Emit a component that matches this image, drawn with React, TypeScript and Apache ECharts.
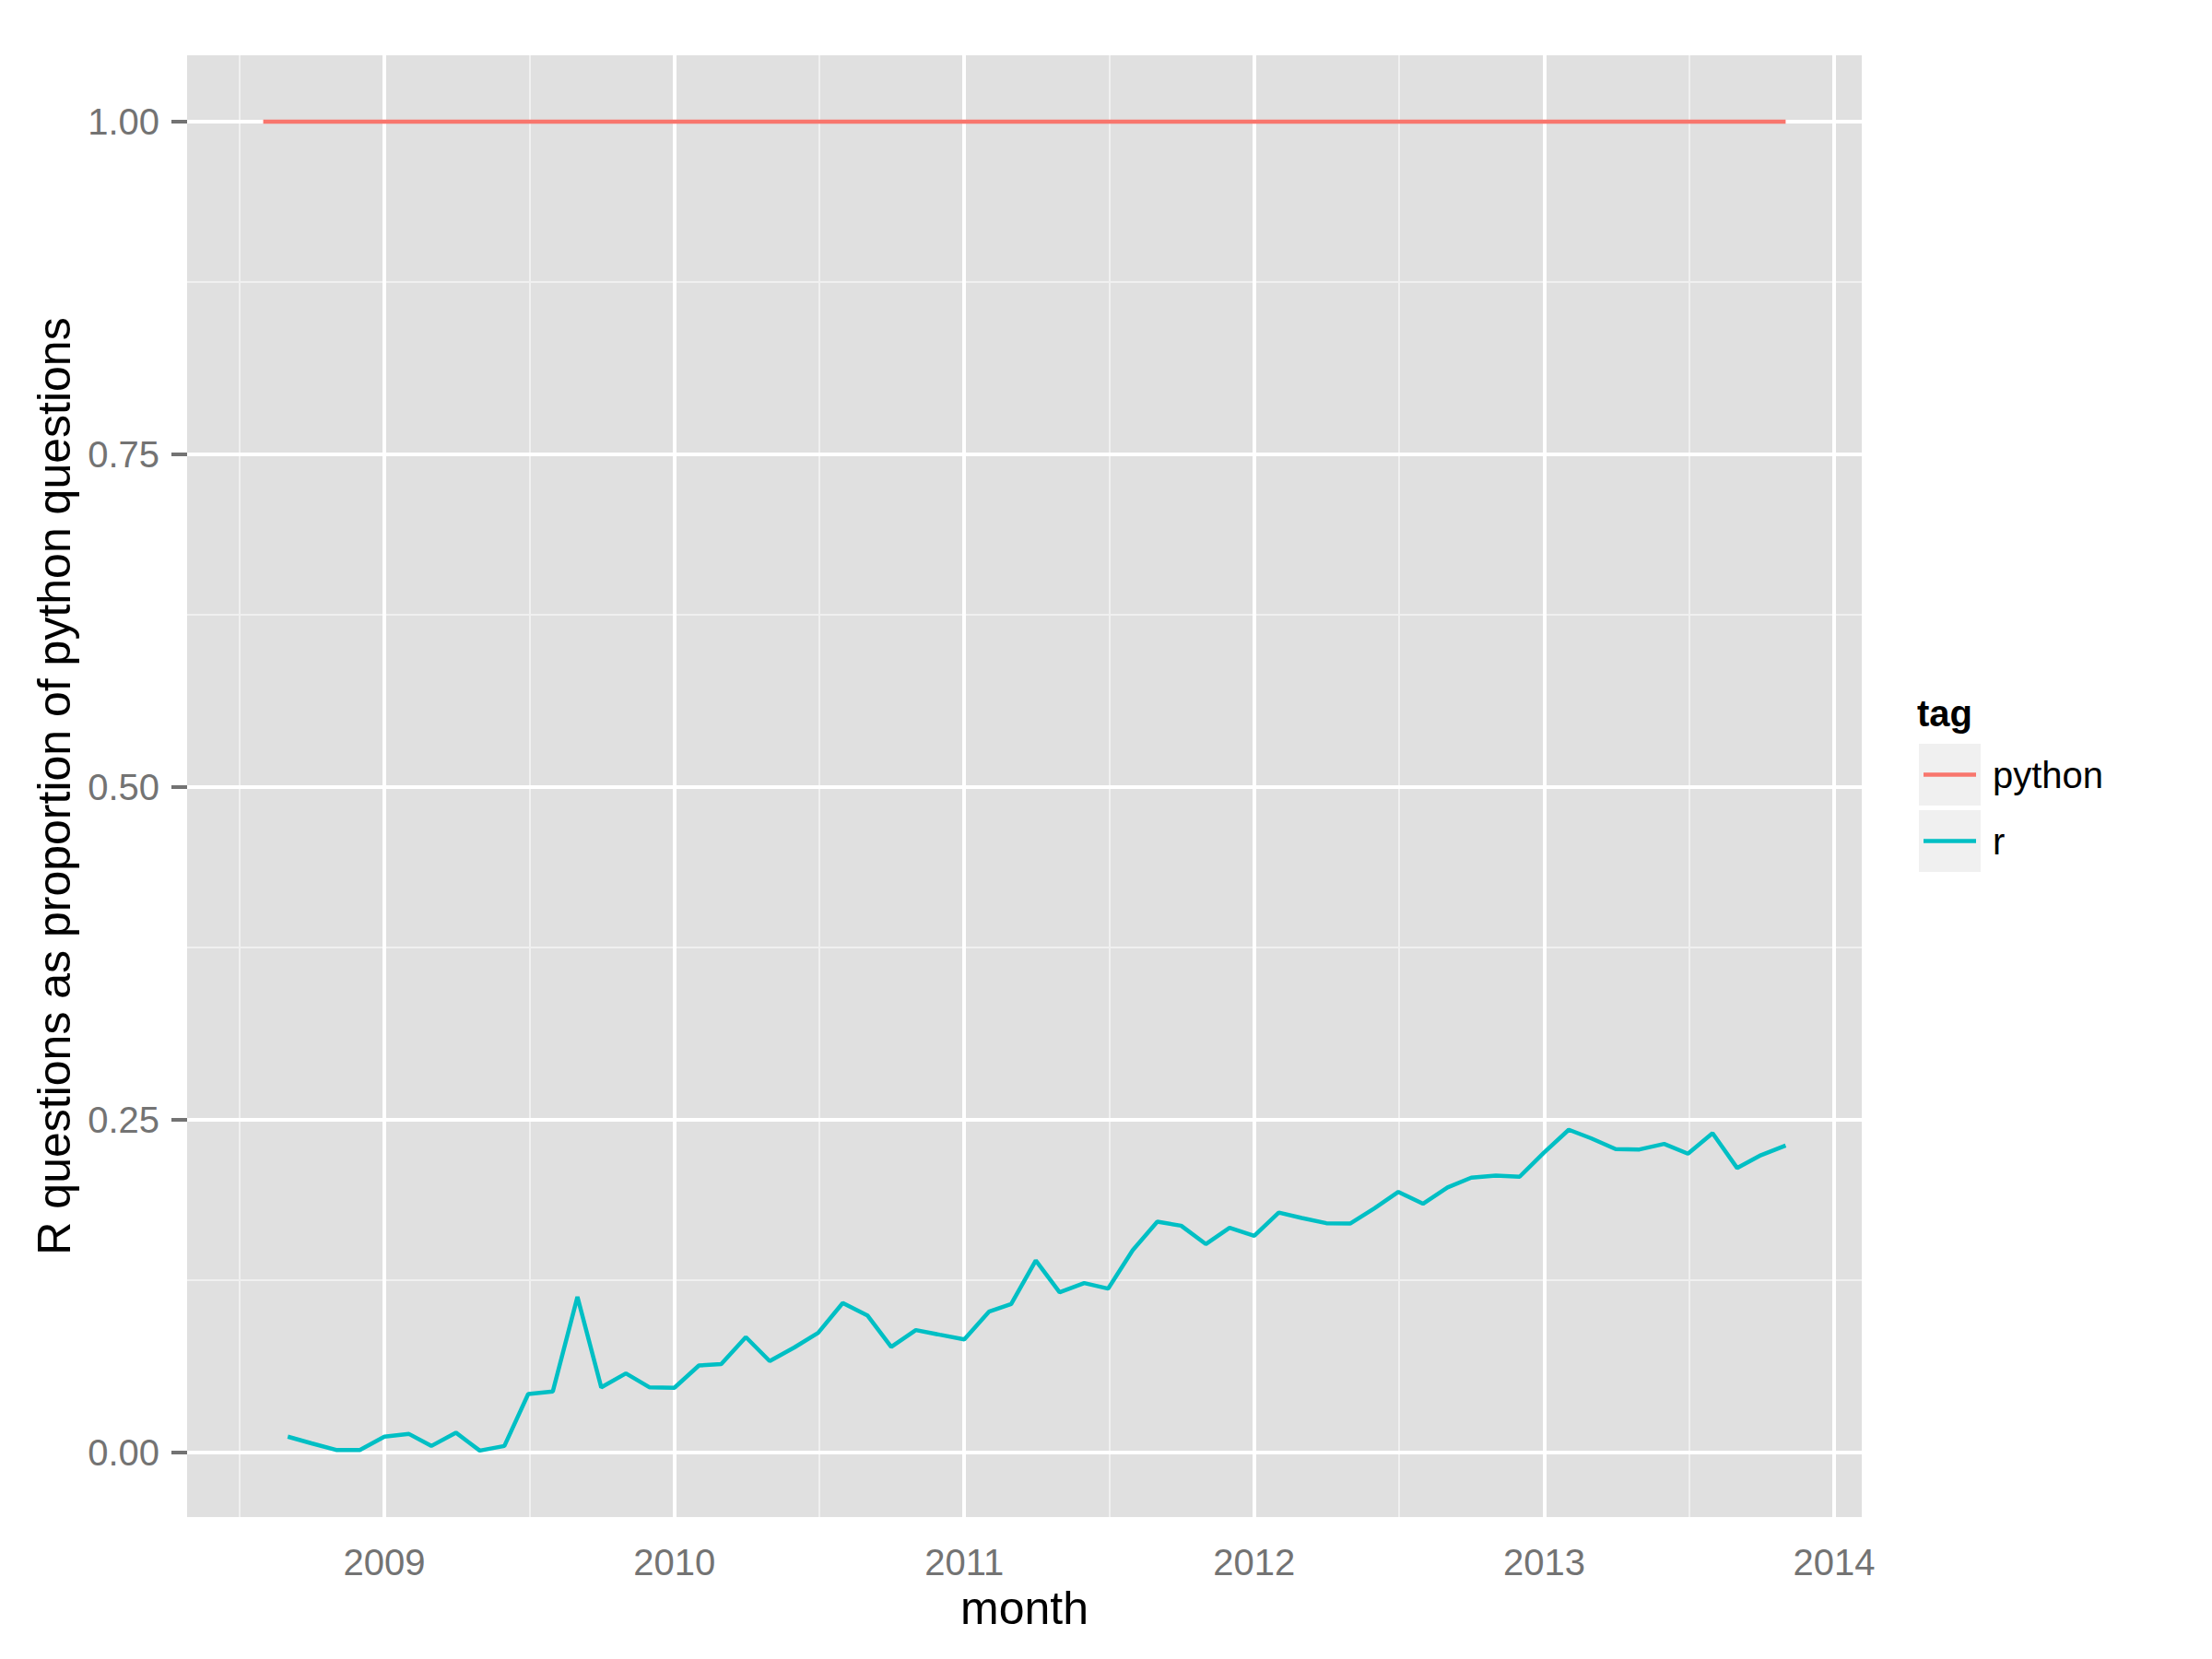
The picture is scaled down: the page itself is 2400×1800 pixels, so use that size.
import React, { useEffect, useRef } from "react";
import * as echarts from "echarts";

// ---- data ----
const pythonMonths = [
  "2008-08", "2008-09", "2008-10", "2008-11", "2008-12",
  "2009-01", "2009-02", "2009-03", "2009-04", "2009-05", "2009-06", "2009-07", "2009-08", "2009-09", "2009-10", "2009-11", "2009-12",
  "2010-01", "2010-02", "2010-03", "2010-04", "2010-05", "2010-06", "2010-07", "2010-08", "2010-09", "2010-10", "2010-11", "2010-12",
  "2011-01", "2011-02", "2011-03", "2011-04", "2011-05", "2011-06", "2011-07", "2011-08", "2011-09", "2011-10", "2011-11", "2011-12",
  "2012-01", "2012-02", "2012-03", "2012-04", "2012-05", "2012-06", "2012-07", "2012-08", "2012-09", "2012-10", "2012-11", "2012-12",
  "2013-01", "2013-02", "2013-03", "2013-04", "2013-05", "2013-06", "2013-07", "2013-08", "2013-09", "2013-10", "2013-11",
];
const pythonValues = [
  1, 1, 1, 1, 1,
  1, 1, 1, 1, 1, 1, 1, 1, 1, 1, 1, 1,
  1, 1, 1, 1, 1, 1, 1, 1, 1, 1, 1, 1,
  1, 1, 1, 1, 1, 1, 1, 1, 1, 1, 1, 1,
  1, 1, 1, 1, 1, 1, 1, 1, 1, 1, 1, 1,
  1, 1, 1, 1, 1, 1, 1, 1, 1, 1, 1,
];
const rMonths = [
  "2008-09", "2008-10", "2008-11", "2008-12",
  "2009-01", "2009-02", "2009-03", "2009-04", "2009-05", "2009-06", "2009-07", "2009-08", "2009-09", "2009-10", "2009-11", "2009-12",
  "2010-01", "2010-02", "2010-03", "2010-04", "2010-05", "2010-06", "2010-07", "2010-08", "2010-09", "2010-10", "2010-11", "2010-12",
  "2011-01", "2011-02", "2011-03", "2011-04", "2011-05", "2011-06", "2011-07", "2011-08", "2011-09", "2011-10", "2011-11", "2011-12",
  "2012-01", "2012-02", "2012-03", "2012-04", "2012-05", "2012-06", "2012-07", "2012-08", "2012-09", "2012-10", "2012-11", "2012-12",
  "2013-01", "2013-02", "2013-03", "2013-04", "2013-05", "2013-06", "2013-07", "2013-08", "2013-09", "2013-10", "2013-11",
];
const rValues = [
  0.012, 0.007, 0.002, 0.002,
  0.012, 0.014, 0.005, 0.015, 0.0015, 0.005, 0.044, 0.046, 0.117, 0.049, 0.0595, 0.049,
  0.0487, 0.0655, 0.0665, 0.0868, 0.0688, 0.079, 0.090, 0.1124, 0.1031, 0.0794, 0.0921, 0.0886,
  0.0851, 0.1059, 0.1117, 0.1444, 0.1204, 0.1274, 0.1232, 0.152, 0.1735, 0.1705, 0.1567, 0.1689,
  0.1629, 0.1804, 0.1763, 0.1724, 0.1721, 0.1837, 0.1959, 0.187, 0.1992, 0.2066, 0.2082, 0.2073,
  0.2255, 0.2426, 0.2362, 0.2281, 0.2278, 0.232, 0.2246, 0.240, 0.2138, 0.2235, 0.2308,
];
const seriesNames = ["python", "r"];
const seriesColors = ["#F8766D", "#00BFC4"];
const xMajorBreaks = [2009, 2010, 2011, 2012, 2013, 2014];
const xMinorBreaks = [2008.5, 2009.5, 2010.5, 2011.5, 2012.5, 2013.5];
const yMajorBreaks = [0, 0.25, 0.5, 0.75, 1];
const yMinorBreaks = [0.125, 0.375, 0.625, 0.875];
const yTickLabels = ["0.00", "0.25", "0.50", "0.75", "1.00"];
const legendTitle = "tag";
const xTitle = "month";
const yTitle = "R questions as proportion of python questions";

function monthToYear(s: string): number {
  const [y, m] = s.split("-").map(Number);
  const start = Date.UTC(y, 0, 1);
  const end = Date.UTC(y + 1, 0, 1);
  return y + (Date.UTC(y, m - 1, 1) - start) / (end - start);
}

const FONT = "'Liberation Sans', Arial, Helvetica, sans-serif";

export default function App() {
  const ref = useRef<HTMLDivElement>(null);
  useEffect(() => {
    if (!ref.current) return;
    const chart = echarts.init(ref.current, undefined, { renderer: "svg" });

    const pyData = pythonMonths.map((m, i) => [monthToYear(m), pythonValues[i]]);
    const rData = rMonths.map((m, i) => [monthToYear(m), rValues[i]]);
    const x0 = pyData[0][0];
    const x1 = pyData[pyData.length - 1][0];
    const xr = x1 - x0;
    const yLo = Math.min(...rValues, ...pythonValues);
    const yHi = Math.max(...rValues, ...pythonValues);
    const yr = yHi - yLo;

    const gridMarks = [
      ...xMinorBreaks.map((v) => ({ xAxis: v, lineStyle: { color: "#F0F0F0", width: 2, type: "solid" } })),
      ...yMinorBreaks.map((v) => ({ yAxis: v, lineStyle: { color: "#F0F0F0", width: 2, type: "solid" } })),
      ...xMajorBreaks.map((v) => ({ xAxis: v, lineStyle: { color: "#FFFFFF", width: 4, type: "solid" } })),
      ...yMajorBreaks.map((v) => ({ yAxis: v, lineStyle: { color: "#FFFFFF", width: 4, type: "solid" } })),
    ];

    const legendX = 2082;
    const keyTop = 807;
    const keySize = 67;
    const legendGraphics: any[] = [
      {
        type: "text",
        x: 2080,
        y: 774,
        style: { text: legendTitle, font: `bold 40px ${FONT}`, fill: "#000", verticalAlign: "middle" },
      },
    ];
    seriesNames.forEach((name, i) => {
      const top = keyTop + i * (keySize + 5);
      const cy = top + keySize / 2;
      legendGraphics.push(
        { type: "rect", shape: { x: legendX, y: top, width: keySize, height: keySize }, style: { fill: "#F0F0F0" } },
        { type: "line", shape: { x1: legendX + 5, y1: cy, x2: legendX + keySize - 5, y2: cy }, style: { stroke: seriesColors[i], lineWidth: 4.5 } },
        { type: "text", x: 2162, y: cy, style: { text: name, font: `40px ${FONT}`, fill: "#000", verticalAlign: "middle" } }
      );
    });

    chart.setOption({
      animation: false,
      backgroundColor: "#FFFFFF",
      grid: { left: 203, top: 60, right: 380, bottom: 154, show: true, backgroundColor: "#E0E0E0", borderWidth: 0 },
      xAxis: {
        type: "value",
        min: x0 - 0.05 * xr,
        max: x1 + 0.05 * xr,
        name: xTitle,
        nameLocation: "middle",
        nameGap: 62,
        nameTextStyle: { fontFamily: FONT, fontSize: 50, color: "#000" },
        axisLine: { show: false },
        splitLine: { show: false },
        axisTick: { show: true, length: 17, customValues: xMajorBreaks, lineStyle: { color: "#737373", width: 4 } },
        axisLabel: {
          customValues: xMajorBreaks,
          margin: 29,
          fontFamily: FONT,
          fontSize: 40,
          color: "#737373",
          formatter: (v: number) => String(Math.round(v)),
        },
      },
      yAxis: {
        type: "value",
        min: yLo - 0.05 * yr,
        max: yHi + 0.05 * yr,
        name: yTitle,
        nameLocation: "middle",
        nameGap: 115,
        nameTextStyle: { fontFamily: FONT, fontSize: 50, color: "#000" },
        axisLine: { show: false },
        splitLine: { show: false },
        axisTick: { show: true, length: 17, customValues: yMajorBreaks, lineStyle: { color: "#737373", width: 4 } },
        axisLabel: {
          customValues: yMajorBreaks,
          margin: 30,
          fontFamily: FONT,
          fontSize: 40,
          color: "#737373",
          formatter: (v: number) => {
            const idx = yMajorBreaks.findIndex((b) => Math.abs(b - v) < 1e-9);
            return idx >= 0 ? yTickLabels[idx] : v.toFixed(2);
          },
        },
      },
      graphic: legendGraphics,
      series: [
        {
          name: "grid",
          type: "line",
          z: 1,
          data: [],
          silent: true,
          markLine: { z: 1, silent: true, symbol: ["none", "none"], label: { show: false }, data: gridMarks, animation: false },
        },
        {
          name: seriesNames[0],
          type: "line",
          z: 6,
          data: pyData,
          showSymbol: false,
          lineStyle: { color: seriesColors[0], width: 4.5 },
          itemStyle: { color: seriesColors[0] },
        },
        {
          name: seriesNames[1],
          type: "line",
          z: 7,
          data: rData,
          showSymbol: false,
          lineStyle: { color: seriesColors[1], width: 4.5 },
          itemStyle: { color: seriesColors[1] },
        },
      ],
    });
    return () => chart.dispose();
  }, []);
  return <div ref={ref} style={{ position: "fixed", left: 0, top: 0, width: 2400, height: 1800 }} />;
}
